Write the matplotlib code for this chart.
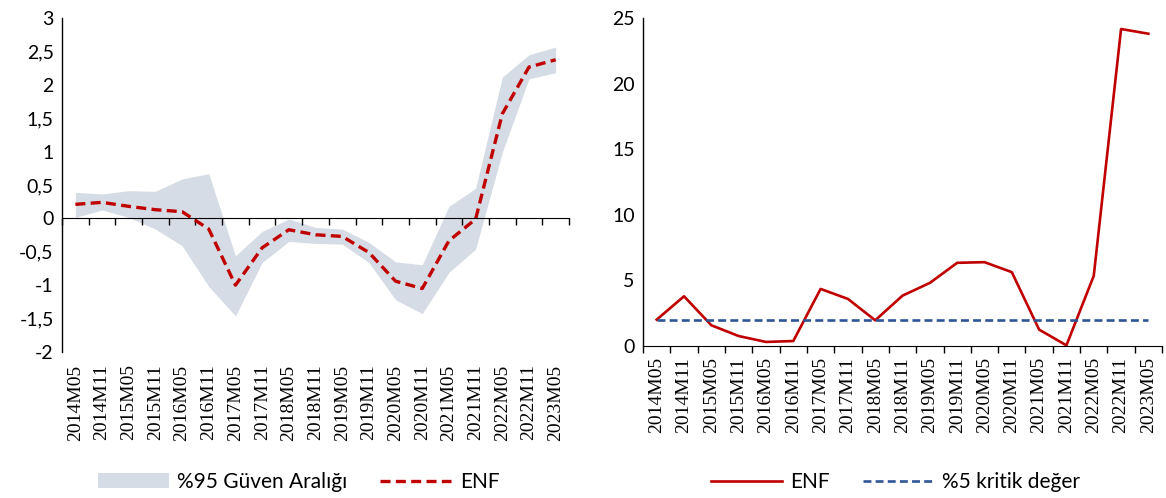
import numpy as np
import matplotlib
matplotlib.use("Agg")
import matplotlib.pyplot as plt
from matplotlib.patches import Patch
from matplotlib.lines import Line2D

plt.rcParams['font.family'] = ['Lato', 'DejaVu Sans']

# data
periods = ['2014M05', '2014M11', '2015M05', '2015M11', '2016M05', '2016M11', '2017M05',
           '2017M11', '2018M05', '2018M11', '2019M05', '2019M11', '2020M05', '2020M11',
           '2021M05', '2021M11', '2022M05', '2022M11', '2023M05']
enf_coef = [0.21, 0.24, 0.18, 0.13, 0.10, -0.16, -1.00, -0.44, -0.17, -0.245, -0.27, -0.51,
            -0.94, -1.05, -0.335, -0.01, 1.565, 2.265, 2.375]
band_upper = [0.39, 0.365, 0.415, 0.405, 0.59, 0.67, -0.56, -0.195, -0.01, -0.135, -0.16, -0.36,
              -0.65, -0.695, 0.18, 0.45, 2.115, 2.45, 2.565]
band_lower = [0.015, 0.125, 0.015, -0.16, -0.41, -1.02, -1.46, -0.66, -0.345, -0.375, -0.385, -0.66,
              -1.22, -1.425, -0.81, -0.46, 0.99, 2.09, 2.18]
enf_stat = [2.01, 3.79, 1.58, 0.76, 0.31, 0.38, 4.35, 3.59, 1.96, 3.84, 4.81, 6.34, 6.39, 5.63,
            1.25, 0.05, 5.35, 24.16, 23.8]
critical = 1.96

red = '#C00000'
band_col = '#D6DCE5'
blue = '#2F5597'
x = np.arange(len(periods))

fig = plt.figure(figsize=(11.66, 4.98), dpi=100)
ax1 = fig.add_axes([0.0532, 0.2932, 0.4348, 0.6707])
ax2 = fig.add_axes([0.5515, 0.3052, 0.4451, 0.6587])

# left panel
ax1.fill_between(x, band_lower, band_upper, color=band_col, lw=0)
ax1.plot(x, enf_coef, color=red, lw=2.4, ls=(0, (3, 1.6)))
ax1.set_xlim(-0.5, len(periods) - 0.5)
ax1.set_ylim(-2, 3)
ax1.set_yticks(np.arange(-2, 3.01, 0.5))
ax1.set_yticklabels([f'{v:g}'.replace('.', ',') for v in np.arange(-2, 3.01, 0.5)])
ax1.spines['bottom'].set_position(('data', 0))
for s in ['top', 'right']:
    ax1.spines[s].set_visible(False)
ax1.set_xticks(np.arange(-0.5, len(periods), 1))
ax1.tick_params(axis='x', direction='out', length=5, width=1, labelbottom=False)
sec = ax1.secondary_xaxis(0)
sec.set_xticks(x)
sec.set_xticklabels(periods, rotation=90, family=['Liberation Serif'], fontsize=14)
sec.tick_params(length=0, pad=9)
sec.spines['bottom'].set_visible(False)

# right panel
ax2.plot(x, enf_stat, color=red, lw=1.9)
ax2.plot(x, [critical] * len(x), color=blue, lw=1.9, ls=(0, (3, 1.6)))
ax2.set_xlim(-0.5, len(periods) - 0.5)
ax2.set_ylim(0, 25)
ax2.set_yticks(range(0, 26, 5))
for s in ['top', 'right']:
    ax2.spines[s].set_visible(False)
ax2.set_xticks(np.arange(-0.5, len(periods), 1))
ax2.tick_params(axis='x', direction='out', length=5, width=1, labelbottom=False)
sec2 = ax2.secondary_xaxis(0)
sec2.set_xticks(x)
sec2.set_xticklabels(periods, rotation=90, family=['Liberation Serif'], fontsize=14)
sec2.tick_params(length=0, pad=8)
sec2.spines['bottom'].set_visible(False)

for ax in (ax1, ax2):
    ax.tick_params(axis='y', length=0, labelsize=14, pad=6)
    ax.spines['left'].set_linewidth(1)

h1 = [Patch(facecolor=band_col, edgecolor='none', label='%95 Güven Aralığı'),
      Line2D([], [], color=red, lw=2.4, ls=(0, (3, 1.6)), label='ENF')]
fig.legend(handles=h1, loc='center', bbox_to_anchor=(0.256, 0.032), ncol=2, frameon=False,
           fontsize=15, handlelength=3.4, columnspacing=1.6, handletextpad=0.4)
h2 = [Line2D([], [], color=red, lw=1.9, label='ENF'),
      Line2D([], [], color=blue, lw=1.9, ls=(0, (3, 1.6)), label='%5 kritik değer')]
fig.legend(handles=h2, loc='center', bbox_to_anchor=(0.768, 0.032), ncol=2, frameon=False,
           fontsize=15, handlelength=3.4, columnspacing=1.6, handletextpad=0.4)

fig.savefig('out.png', dpi=100)
